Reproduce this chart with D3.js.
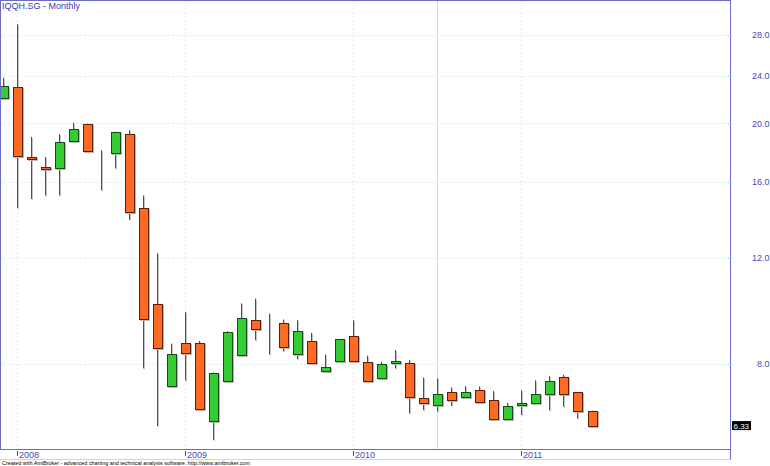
<!DOCTYPE html>
<html><head><meta charset="utf-8">
<script src="https://cdn.jsdelivr.net/npm/d3@7"></script>
<style>body{margin:0;background:#fff}svg{display:block}text{font-family:"Liberation Sans",Arial,sans-serif}</style>
</head><body><div id="c"></div>
<script>
const months = ["2007-12","2008-01","2008-02","2008-03","2008-04","2008-05","2008-06","2008-07","2008-08","2008-09","2008-10","2008-11","2008-12",
"2009-01","2009-02","2009-03","2009-04","2009-05","2009-06","2009-07","2009-08","2009-09","2009-10","2009-11","2009-12",
"2010-01","2010-02","2010-03","2010-04","2010-05","2010-06","2010-07","2010-08","2010-09","2010-10","2010-11","2010-12",
"2011-01","2011-02","2011-03","2011-04","2011-05","2011-06"];
const open  = [22.0,23.0,17.6,16.95,16.9,18.7,19.95,18.0,17.85,19.2,14.5,10.05,7.36,8.67,8.67,6.44,7.49,8.28,9.48,9.36,9.37,8.3,8.75,7.78,8.1,8.89,8.05,7.58,8.02,8.02,7.03,6.84,7.2,7.06,7.26,6.98,6.49,6.84,6.91,7.13,7.62,7.18,6.69];
const high  = [23.8,29.2,19.0,17.6,19.2,20.05,20.0,18.05,19.4,19.5,15.2,12.2,8.65,9.76,8.74,7.75,9.07,10.08,10.27,9.7,9.48,9.46,9.01,8.3,8.8,9.46,8.26,8.07,8.44,8.12,7.6,7.58,7.32,7.36,7.35,7.22,6.9,7.24,7.52,7.64,7.68,7.19,6.7];
const low   = [21.9,14.5,15.0,15.2,15.2,18.7,17.9,15.5,16.85,13.85,7.87,6.32,7.33,7.52,6.73,5.99,7.47,8.24,8.76,8.3,8.4,8.15,8.0,7.75,8.09,8.07,7.46,7.54,7.87,6.63,6.71,6.68,6.82,7.04,6.92,6.48,6.48,6.59,6.89,6.71,6.8,6.5,6.32];
const close = [23.1,17.7,17.5,16.8,18.6,19.6,18.0,18.0,19.35,14.3,9.5,8.5,8.3,8.36,6.75,7.73,9.05,9.52,9.13,9.36,8.54,9.06,8.02,7.92,8.79,8.1,7.51,8.0,8.09,7.06,6.91,7.13,6.97,7.2,6.93,6.49,6.82,6.89,7.15,7.51,7.15,6.69,6.33];
const yTicks = [8,12,16,20,24,28];
const yearLabels = ["2008","2009","2010","2011"];
const selectedMonth = "2010-07";
const lastLabel = "6.33";

(function(){
const W = 770, H = 466;
const svg = d3.select("#c").append("svg").attr("width", W).attr("height", H);
const plot = {l: 0.5, r: 730.5, t: 0.5, b: 449.5};
const data = months.map((m,i)=>({i, m, o:open[i], h:high[i], l:low[i], c:close[i]}));
const x = d3.scaleLinear().domain([0, months.length-1]).range([3.2, 591.5]);
const y = d3.scaleLog().domain([5.79, 32]).range([449, 0]);

const axisCol = "#6a6ac8", labelCol = "#4a4ab8", gridCol = "#a8e4e4";

svg.append("g").selectAll("line").data(yTicks).join("line")
  .attr("x1", plot.l).attr("x2", plot.r)
  .attr("y1", d=>Math.round(y(d))+0.5).attr("y2", d=>Math.round(y(d))+0.5)
  .attr("stroke", gridCol).attr("stroke-dasharray","1,3");
const yearIdx = yearLabels.map(yr=>months.indexOf(yr+"-01"));
svg.append("g").selectAll("line").data(yearIdx).join("line")
  .attr("x1", d=>Math.round(x(d))+0.5).attr("x2", d=>Math.round(x(d))+0.5)
  .attr("y1", plot.t).attr("y2", plot.b)
  .attr("stroke", gridCol).attr("stroke-dasharray","1,3");
const si = months.indexOf(selectedMonth);
svg.append("line").attr("x1", Math.round(x(si))+0.5).attr("x2", Math.round(x(si))+0.5)
  .attr("y1", plot.t).attr("y2", plot.b).attr("stroke", "#ffc8c8");

const g = svg.append("g");
const cx = d=>Math.round(x(d.i));
g.selectAll(".ws").data(data).join("line")
  .attr("x1", d=>cx(d)+1.5).attr("x2", d=>cx(d)+1.5)
  .attr("y1", d=>y(d.h)+1).attr("y2", d=>y(d.l)+1).attr("stroke","#c4c4c4");
g.selectAll(".w").data(data).join("line")
  .attr("x1", d=>cx(d)+0.5).attr("x2", d=>cx(d)+0.5)
  .attr("y1", d=>y(d.h)).attr("y2", d=>y(d.l)).attr("stroke","#505050");
const bw = 9;
const bTop = d=>Math.round(y(Math.max(d.o,d.c)));
const bBot = d=>Math.round(y(Math.min(d.o,d.c)));
g.selectAll(".bs").data(data).join("rect")
  .attr("x", d=>cx(d)-4+0.5+1).attr("y", d=>bTop(d)+0.5+1)
  .attr("width", bw).attr("height", d=>Math.max(0, bBot(d)-bTop(d)))
  .attr("fill","none").attr("stroke","#b8b8b8");
g.selectAll(".b").data(data).join("rect")
  .attr("x", d=>cx(d)-4+0.5).attr("y", d=>bTop(d)+0.5)
  .attr("width", bw).attr("height", d=>Math.max(0, bBot(d)-bTop(d)))
  .attr("fill", d=>d.c>d.o ? "#33cc33" : "#ff6a22")
  .attr("stroke", d=>d.c>d.o ? "#1a4a1a" : (d.c===d.o ? "#202020" : "#5a2008"));

svg.append("rect").attr("x", plot.l).attr("y", plot.t).attr("width", plot.r-plot.l).attr("height", plot.b-plot.t)
  .attr("fill","none").attr("stroke", axisCol);
svg.append("line").attr("x1", plot.r).attr("x2", plot.r).attr("y1", plot.b).attr("y2", 460).attr("stroke", axisCol);
svg.append("line").attr("x1", 0).attr("x2", plot.r).attr("y1", 459.5).attr("y2", 459.5).attr("stroke", "#d0d0ec");

const yAxis = d3.axisRight(y).tickValues(yTicks).tickSize(0).tickFormat(d3.format(".1f"));
const ya = svg.append("g").attr("transform", `translate(${plot.r},0)`).call(yAxis);
ya.select(".domain").remove();
ya.selectAll("text").attr("x", 39).attr("text-anchor","end").attr("fill", labelCol)
  .attr("font-size", 9).attr("font-family", '"Liberation Sans",Arial,sans-serif');
ya.selectAll(".tick").append("line").attr("x1",-3).attr("x2",2).attr("stroke", gridCol);

const xa = svg.append("g");
xa.selectAll("line").data(yearIdx).join("line")
  .attr("x1", d=>Math.round(x(d))+0.5).attr("x2", d=>Math.round(x(d))+0.5)
  .attr("y1", 451).attr("y2", 456).attr("stroke", labelCol);
xa.selectAll("text").data(yearIdx).join("text")
  .attr("x", d=>Math.round(x(d))+2).attr("y", 458)
  .attr("fill", labelCol).attr("font-size", 9)
  .text((d,i)=>yearLabels[i]);

const ly = y(close[close.length-1]);
svg.append("rect").attr("x", 732).attr("y", ly-4.5).attr("width", 19).attr("height", 9).attr("fill","#000");
svg.append("text").attr("x", 733.5).attr("y", ly+3).attr("fill","#fff").attr("font-size", 8).text(lastLabel);

svg.append("text").attr("x", 2).attr("y", 9).attr("fill", "#3a3ab0").attr("font-size", 9).text("IQQH.SG - Monthly");
svg.append("text").attr("x", 2).attr("y", 465).attr("fill", "#000").attr("font-size", 6)
  .attr("textLength", 248).attr("lengthAdjust","spacingAndGlyphs")
  .text("Created with AmiBroker - advanced charting and technical analysis software. http://www.amibroker.com");
})();
</script></body></html>
